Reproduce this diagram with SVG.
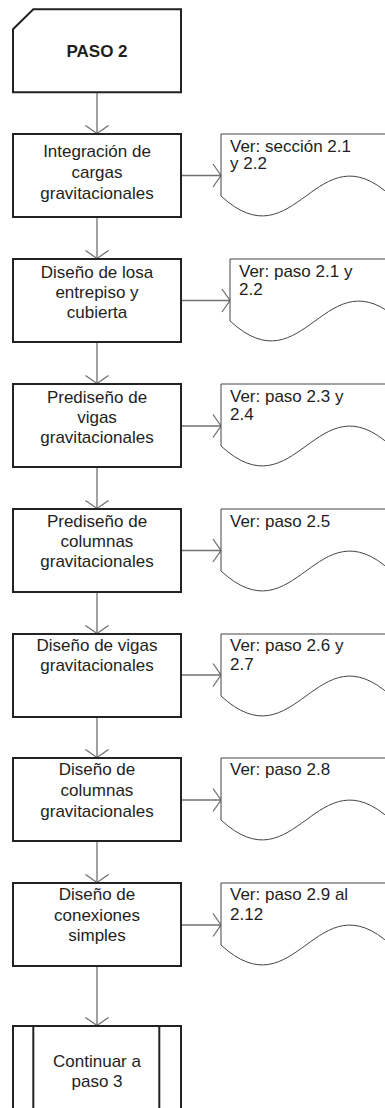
<svg xmlns="http://www.w3.org/2000/svg" width="385" height="1108" viewBox="0 0 385 1108">
<style>
.box{fill:#fff;stroke:#222;stroke-width:2}
.doc{fill:#fff;stroke:#444;stroke-width:1}
.t{font-family:"Liberation Sans",Arial,sans-serif;font-size:17px;fill:#1e1e1e}
.c{text-anchor:middle}
.b{font-weight:bold}
.con{fill:none;stroke:#707070;stroke-width:1.3;marker-end:url(#arr)}
</style>
<defs>
<marker id="arr" markerUnits="userSpaceOnUse" viewBox="-10 -13 12 26" refX="0" refY="0" markerWidth="12" markerHeight="26" orient="auto" overflow="visible">
<path d="M-8,-11.5 L0,0 L-8,11.5" fill="none" stroke="#707070" stroke-width="1.3"/>
</marker>
</defs>
<rect width="385" height="1108" fill="#fff"/>
<g id="connectors">
<line class="con" x1="97" y1="93" x2="97" y2="133.5"/>
<line class="con" x1="97" y1="217" x2="97" y2="258.5"/>
<line class="con" x1="97" y1="342" x2="97" y2="383.5"/>
<line class="con" x1="97" y1="467" x2="97" y2="508.5"/>
<line class="con" x1="97" y1="592" x2="97" y2="633.5"/>
<line class="con" x1="97" y1="717" x2="97" y2="757.5"/>
<line class="con" x1="97" y1="841" x2="97" y2="882.5"/>
<line class="con" x1="97" y1="966" x2="97" y2="1025.5"/>
<line class="con" x1="181" y1="175.5" x2="221" y2="175.5"/>
<line class="con" x1="181" y1="300.5" x2="230" y2="300.5"/>
<line class="con" x1="181" y1="426" x2="221" y2="426"/>
<line class="con" x1="181" y1="550.5" x2="221" y2="550.5"/>
<line class="con" x1="181" y1="675" x2="221" y2="675"/>
<line class="con" x1="181" y1="800" x2="221" y2="800"/>
<line class="con" x1="181" y1="925" x2="221" y2="925"/>
</g>
<g id="start">
<path class="box" d="M13,29.3 L33.3,9.3 L181,9.3 L181,92.3 L13,92.3 Z"/>
<text class="t c b" x="97" y="57">PASO 2</text>
</g>
<g id="n1">
<rect class="box" x="13" y="134" width="168" height="83"/>
<text class="t c" x="97" y="157">Integración de</text>
<text class="t c" x="97" y="178">cargas</text>
<text class="t c" x="97" y="199">gravitacionales</text>
</g>
<g id="d1">
<path class="doc" d="M221,196 V134 H391 V196 C316,127 296,265 221,196 Z"/>
<text class="t" x="230" y="151.5">Ver: sección 2.1</text>
<text class="t" x="230" y="168.5">y 2.2</text>
</g>
<g id="n2">
<rect class="box" x="13" y="259" width="168" height="83"/>
<text class="t c" x="97" y="277.5">Diseño de losa</text>
<text class="t c" x="97" y="297.5">entrepiso y</text>
<text class="t c" x="97" y="317.5">cubierta</text>
</g>
<g id="d2">
<path class="doc" d="M230,321 V259 H400 V321 C325,252 305,390 230,321 Z"/>
<text class="t" x="239" y="277">Ver: paso 2.1 y</text>
<text class="t" x="239" y="295">2.2</text>
</g>
<g id="n3">
<rect class="box" x="13" y="384" width="168" height="83"/>
<text class="t c" x="97" y="402.5">Prediseño de</text>
<text class="t c" x="97" y="422.5">vigas</text>
<text class="t c" x="97" y="442.5">gravitacionales</text>
</g>
<g id="d3">
<path class="doc" d="M221,446 V384 H391 V446 C316,377 296,515 221,446 Z"/>
<text class="t" x="230" y="402">Ver: paso 2.3 y</text>
<text class="t" x="230" y="420">2.4</text>
</g>
<g id="n4">
<rect class="box" x="13" y="509" width="168" height="83"/>
<text class="t c" x="97" y="526.5">Prediseño de</text>
<text class="t c" x="97" y="546.5">columnas</text>
<text class="t c" x="97" y="566.5">gravitacionales</text>
</g>
<g id="d4">
<path class="doc" d="M221,571 V509 H391 V571 C316,502 296,640 221,571 Z"/>
<text class="t" x="230" y="527">Ver: paso 2.5</text>
</g>
<g id="n5">
<rect class="box" x="13" y="634" width="168" height="83"/>
<text class="t c" x="97" y="651">Diseño de vigas</text>
<text class="t c" x="97" y="671">gravitacionales</text>
</g>
<g id="d5">
<path class="doc" d="M221,696 V634 H391 V696 C316,627 296,765 221,696 Z"/>
<text class="t" x="230" y="651">Ver: paso 2.6 y</text>
<text class="t" x="230" y="670">2.7</text>
</g>
<g id="n6">
<rect class="box" x="13" y="758" width="168" height="83"/>
<text class="t c" x="97" y="775">Diseño de</text>
<text class="t c" x="97" y="796">columnas</text>
<text class="t c" x="97" y="816.5">gravitacionales</text>
</g>
<g id="d6">
<path class="doc" d="M221,820 V758 H391 V820 C316,751 296,889 221,820 Z"/>
<text class="t" x="230" y="775">Ver: paso 2.8</text>
</g>
<g id="n7">
<rect class="box" x="13" y="883" width="168" height="83"/>
<text class="t c" x="97" y="899.5">Diseño de</text>
<text class="t c" x="97" y="920.5">conexiones</text>
<text class="t c" x="97" y="941">simples</text>
</g>
<g id="d7">
<path class="doc" d="M221,945 V883 H391 V945 C316,876 296,1014 221,945 Z"/>
<text class="t" x="230" y="900">Ver: paso 2.9 al</text>
<text class="t" x="230" y="920">2.12</text>
</g>
<g id="end">
<rect class="box" x="13" y="1026" width="168" height="84"/>
<line x1="33.3" y1="1026" x2="33.3" y2="1110" stroke="#222" stroke-width="2"/>
<line x1="159.3" y1="1026" x2="159.3" y2="1110" stroke="#222" stroke-width="2"/>
<text class="t c" x="97" y="1067">Continuar a</text>
<text class="t c" x="97" y="1087">paso 3</text>
</g>
</svg>
